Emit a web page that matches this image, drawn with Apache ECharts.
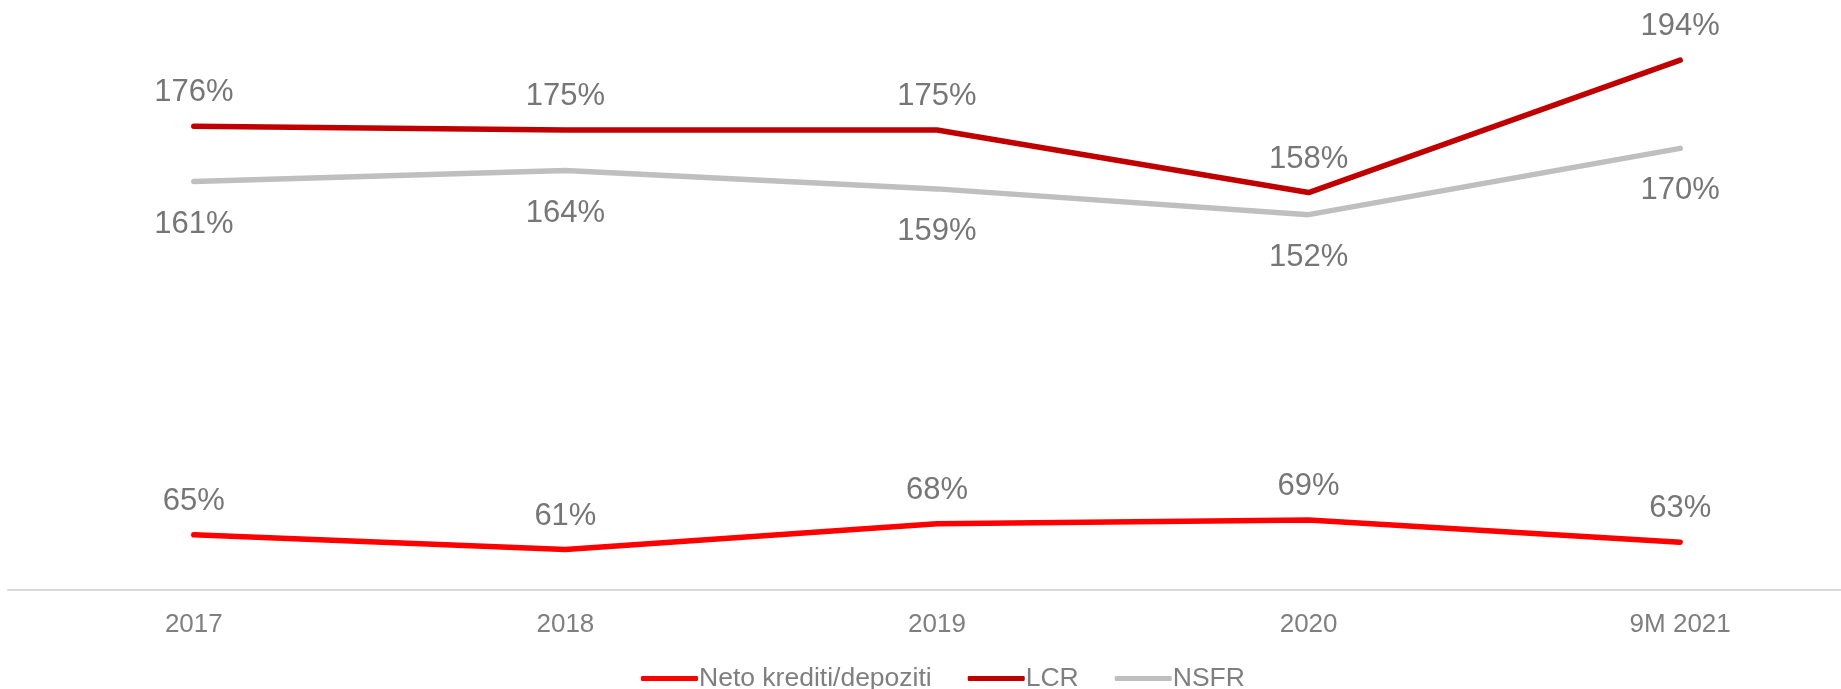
<!DOCTYPE html>
<html>
<head>
<meta charset="utf-8">
<script src="https://cdn.jsdelivr.net/npm/echarts@6/dist/echarts.min.js"></script>
<style>
  html, body { margin: 0; padding: 0; background: #fff; overflow: hidden; }
  #chart { width: 1866px; height: 689px; }
</style>
</head>
<body>
<div id="chart"></div>
<script>
var categories = ["2017", "2018", "2019", "2020", "9M 2021"];
var netoKrediti = [65, 61, 68, 69, 63];
var lcr = [176, 175, 175, 158, 194];
var nsfr = [161, 164, 159, 152, 170];

var myChart = echarts.init(document.getElementById("chart"));

var labelFont = {
  color: "#767676",
  fontSize: 31,
  fontFamily: "Liberation Sans, Arial, sans-serif",
};

function lineSeries(name, data, color, pos, dist) {
  return {
    name: name,
    type: "line",
    data: data,
    symbol: "circle",
    symbolSize: 0,
    showSymbol: true,
    lineStyle: { color: color, width: 5.5, cap: "round" },
    itemStyle: { color: color },
    label: Object.assign({
      show: true,
      position: pos,
      distance: dist,
      formatter: "{c}%",
    }, labelFont),
    emphasis: { disabled: true },
  };
}

var option = {
  animation: false,
  grid: { left: 8, right: 0, top: 38, bottom: 99 },
  legend: {
    left: 636,
    top: 660,
    itemWidth: 57,
    itemHeight: 5,
    itemGap: 36,
    icon: "roundRect",
    textStyle: {
      color: "#7f7f7f",
      fontSize: 26.5,
      fontFamily: "Liberation Sans, Arial, sans-serif",
      padding: [0, 0, 0, -4],
    },
    data: ["Neto krediti/depoziti", "LCR", "NSFR"],
  },
  xAxis: {
    type: "category",
    data: categories,
    boundaryGap: true,
    axisLine: { lineStyle: { color: "#d9d9d9", width: 2 } },
    axisTick: { show: false },
    axisLabel: {
      color: "#7f7f7f",
      fontSize: 26,
      margin: 22,
      fontFamily: "Liberation Sans, Arial, sans-serif",
    },
  },
  yAxis: {
    type: "value",
    min: 50,
    max: 200,
    show: false,
    splitLine: { show: false },
  },
  series: [
    lineSeries("Neto krediti/depoziti", netoKrediti, "#ff0000", "top", 18),
    lineSeries("LCR", lcr, "#c00000", "top", 18),
    lineSeries("NSFR", nsfr, "#bfbfbf", "bottom", 27),
  ],
};

myChart.setOption(option);
</script>
</body>
</html>
